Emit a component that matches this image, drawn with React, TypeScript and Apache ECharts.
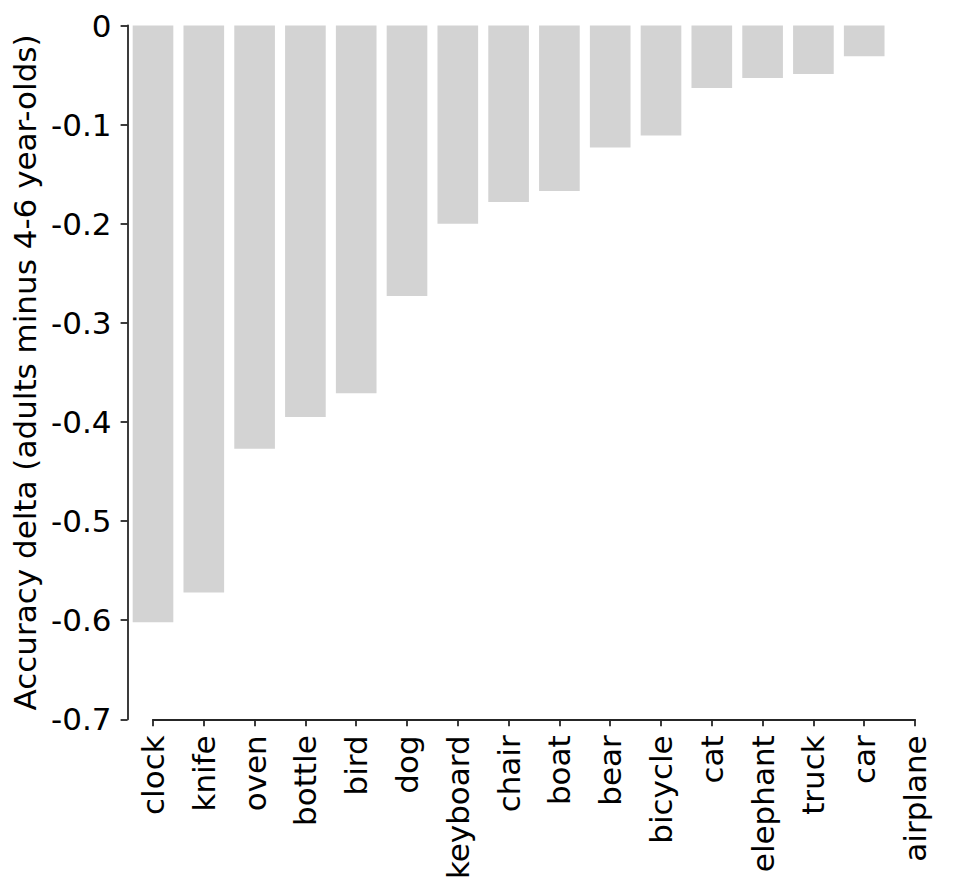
import React, { useEffect, useRef } from "react";
import * as echarts from "echarts";

const categories = [
  "clock", "knife", "oven", "bottle", "bird", "dog", "keyboard", "chair",
  "boat", "bear", "bicycle", "cat", "elephant", "truck", "car", "airplane",
];
const deltas = [
  -0.602, -0.572, -0.427, -0.395, -0.371, -0.273, -0.2, -0.178,
  -0.167, -0.123, -0.111, -0.063, -0.053, -0.049, -0.031, 0,
];
const yTicks = [0, -0.1, -0.2, -0.3, -0.4, -0.5, -0.6, -0.7];
const yLabel = "Accuracy delta (adults minus 4-6 year-olds)";

const FONT = "DejaVu Sans";
const SPINE = "#262626";
const FS = 31;

export default function App() {
  const ref = useRef<HTMLDivElement>(null);
  useEffect(() => {
    if (!ref.current) return;
    const chart = echarts.init(ref.current, null, { renderer: "svg" });
    const W = 956;
    const plotLeft = 127.6;
    const plotRight = 940.4;
    const band = (plotRight - plotLeft) / categories.length;
    const top = 25.5;
    const bottom = 894 - 719.3;
    chart.setOption({
      animation: false,
      backgroundColor: "#ffffff",
      textStyle: { fontFamily: FONT },
      grid: [
        { left: plotLeft, right: W - plotRight, top, bottom, containLabel: false },
        {
          left: plotLeft + band / 2,
          right: W - plotRight + band / 2,
          top,
          bottom,
          containLabel: false,
        },
      ],
      xAxis: [
        {
          type: "category",
          gridIndex: 0,
          data: categories,
          boundaryGap: true,
          axisLine: { show: false },
          axisTick: { show: false },
          axisLabel: { show: false },
          splitLine: { show: false },
        },
        {
          type: "category",
          gridIndex: 1,
          position: "bottom",
          data: categories,
          boundaryGap: false,
          axisLine: { show: true, onZero: false, lineStyle: { color: SPINE, width: 1.8 } },
          axisTick: { show: true, length: 7, lineStyle: { color: SPINE, width: 1.8 } },
          axisLabel: {
            show: true,
            rotate: 90,
            interval: 0,
            margin: 16,
            fontSize: FS,
            fontFamily: FONT,
            color: "#000",
          },
          splitLine: { show: false },
        },
      ],
      yAxis: [
        {
          type: "value",
          gridIndex: 0,
          min: yTicks[yTicks.length - 1],
          max: yTicks[0],
          interval: 0.1,
          name: yLabel,
          nameLocation: "middle",
          nameRotate: 90,
          nameGap: 83,
          nameTextStyle: { fontSize: FS, fontFamily: FONT, color: "#000" },
          axisLine: { show: true, lineStyle: { color: SPINE, width: 1.8 } },
          axisTick: { show: true, length: 7, lineStyle: { color: SPINE, width: 1.8 } },
          axisLabel: {
            show: true,
            margin: 16,
            fontSize: FS,
            fontFamily: FONT,
            color: "#000",
            formatter: (v: number) => {
              const r = Math.round(v * 10) / 10;
              return r === 0 ? "0" : r.toFixed(1);
            },
          },
          splitLine: { show: false },
        },
        {
          type: "value",
          gridIndex: 1,
          min: yTicks[yTicks.length - 1],
          max: yTicks[0],
          show: false,
        },
      ],
      series: [
        {
          type: "bar",
          xAxisIndex: 0,
          yAxisIndex: 0,
          data: deltas,
          barWidth: "80%",
          itemStyle: { color: "#d3d3d3" },
        },
      ],
    });
    return () => chart.dispose();
  }, []);
  return (
    <div
      ref={ref}
      style={{ position: "absolute", left: 0, top: 0, width: 956, height: 894 }}
    />
  );
}
